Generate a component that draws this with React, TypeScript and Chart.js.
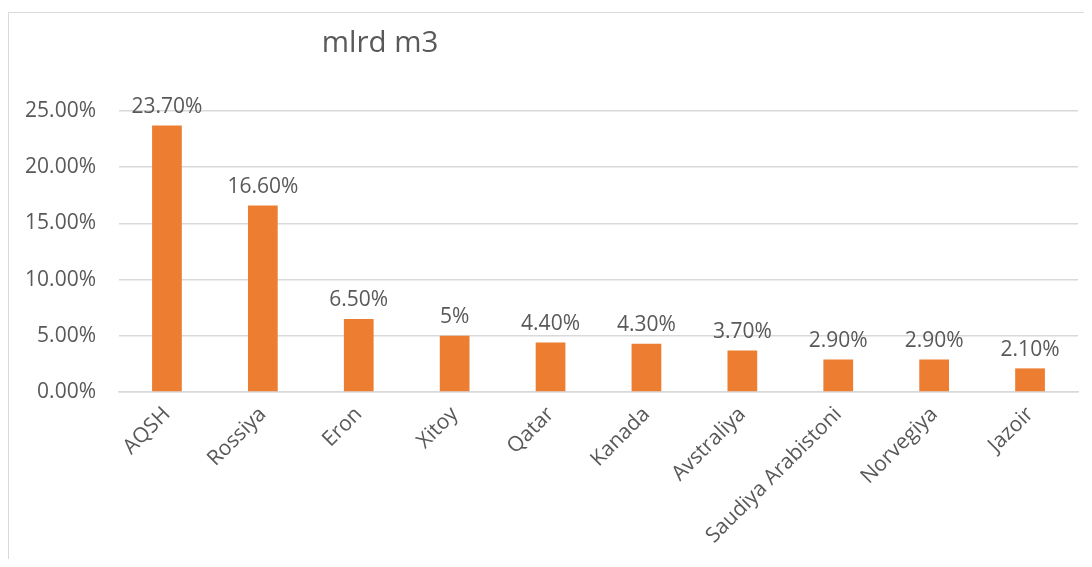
import React, { useEffect, useRef } from "react";
import { Chart, registerables } from "chart.js";

Chart.register(...registerables);

const categories = [
  "AQSH",
  "Rossiya",
  "Eron",
  "Xitoy",
  "Qatar",
  "Kanada",
  "Avstraliya",
  "Saudiya Arabistoni",
  "Norvegiya",
  "Jazoir",
];
const values = [23.7, 16.6, 6.5, 5, 4.4, 4.3, 3.7, 2.9, 2.9, 2.1];
const valueLabels = ["23.70%", "16.60%", "6.50%", "5%", "4.40%", "4.30%", "3.70%", "2.90%", "2.90%", "2.10%"];
const titleText = "mlrd m3";

const FONT = "'Open Sans', sans-serif";
const TEXT = "#595959";
const GRID = "#d9d9d9";
const BAR = "#ED7D31";

export default function App() {
  const ref = useRef<HTMLCanvasElement | null>(null);

  useEffect(() => {
    if (!ref.current) return;
    const labelPlugin = {
      id: "valueLabels",
      afterDatasetsDraw(chart: any) {
        const ctx = chart.ctx;
        const meta = chart.getDatasetMeta(0);
        ctx.save();
        ctx.font = `21px ${FONT}`;
        ctx.fillStyle = TEXT;
        ctx.textAlign = "center";
        ctx.textBaseline = "bottom";
        meta.data.forEach((bar: any, i: number) => {
          ctx.fillText(valueLabels[i], bar.x, bar.y - 8);
        });
        ctx.restore();
      },
    };
    const titlePlugin = {
      id: "manualTitle",
      afterDraw(chart: any) {
        const ctx = chart.ctx;
        ctx.save();
        ctx.font = `29.5px ${FONT}`;
        ctx.fillStyle = TEXT;
        ctx.textAlign = "center";
        ctx.textBaseline = "alphabetic";
        ctx.fillText(titleText, 371, 39);
        ctx.restore();
      },
    };
    const chart = new Chart(ref.current, {
      type: "bar",
      data: {
        labels: categories,
        datasets: [
          {
            data: values,
            backgroundColor: BAR,
            borderWidth: 0,
            barPercentage: 0.31,
            categoryPercentage: 1,
          },
        ],
      },
      options: {
        responsive: false,
        animation: false,
        layout: { padding: { top: 98, right: 14, left: 0, bottom: 0 } },
        plugins: {
          legend: { display: false },
          title: { display: false },
          tooltip: { enabled: false },
        },
        scales: {
          x: {
            grid: { display: false, drawTicks: false },
            border: { color: GRID, width: 1.5 },
            ticks: {
              color: TEXT,
              font: { family: FONT, size: 21 },
              minRotation: 45,
              maxRotation: 45,
              padding: 10,
              autoSkip: false,
            },
            afterFit: (scale: any) => {
              scale.height = 167;
            },
          },
          y: {
            min: 0,
            max: 25,
            grid: { color: GRID, lineWidth: 1.5, drawTicks: false },
            border: { display: false },
            ticks: {
              stepSize: 5,
              color: TEXT,
              font: { family: FONT, size: 21 },
              padding: 23,
              callback: (v: any) => Number(v).toFixed(2) + "%",
            },
            afterFit: (scale: any) => {
              scale.width = 110;
            },
          },
        },
      },
      plugins: [labelPlugin, titlePlugin],
    });
    return () => chart.destroy();
  }, []);

  return (
    <div
      style={{
        marginLeft: -1,
        marginTop: 4,
        borderLeft: `2px solid ${GRID}`,
        borderTop: `1px solid ${GRID}`,
        width: 1083,
        height: 546,
        background: "#fff",
      }}
    >
      <canvas ref={ref} width={1083} height={546} style={{ display: "block" }} />
    </div>
  );
}
